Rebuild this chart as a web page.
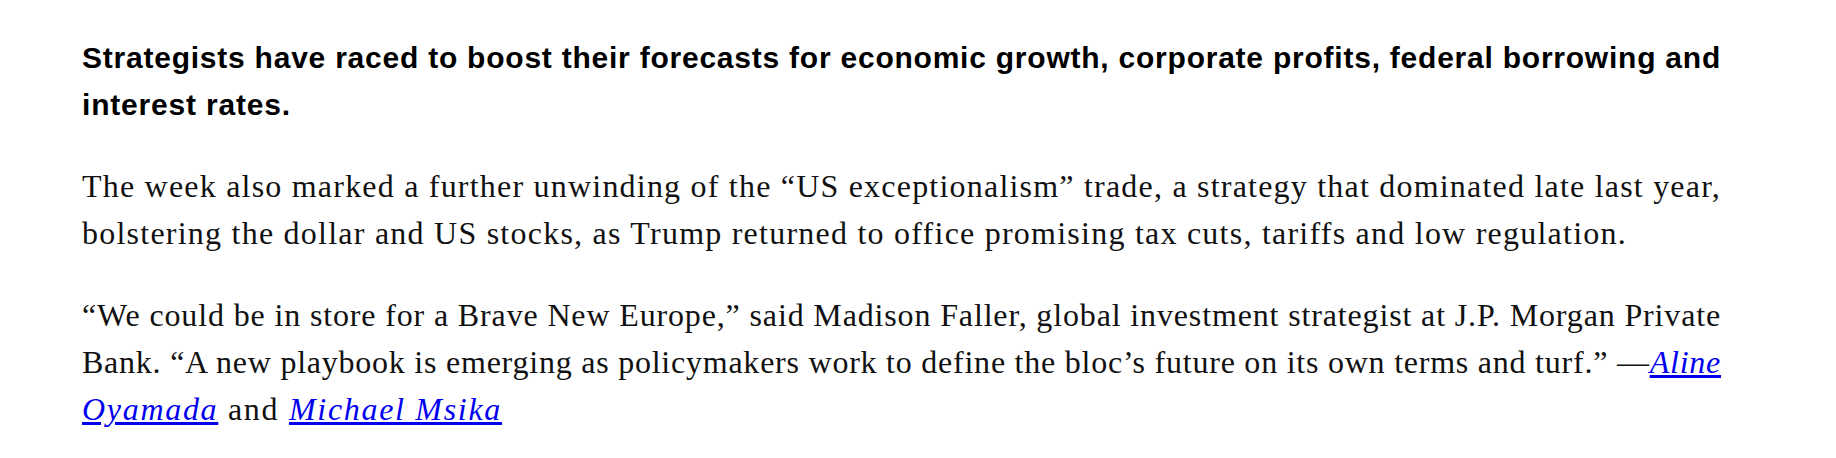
<!DOCTYPE html>
<html>
<head>
<meta charset="utf-8">
<script src="https://cdn.jsdelivr.net/npm/chart.js@4"></script>
<style>
  body { margin: 0; background: #fff; width: 1836px; height: 458px; overflow: hidden; }
  .wrap { position: absolute; left: 82px; top: 34px; width: 1700px; }
  .lede { font-family: "Liberation Sans", Arial, sans-serif; font-weight: bold; font-size: 30px; line-height: 47px; color: #000; margin: 0 0 35px; }
  .body { font-family: "Liberation Serif", "DejaVu Serif", serif; font-size: 32px; line-height: 47px; color: #111; margin: 0 0 35px; }
  .ln { display: inline-block; white-space: nowrap; }
  a { color: #00e; font-style: italic; text-decoration: underline; }
</style>
</head>
<body>
<div class="wrap" id="text"></div>
<script>
// ── Text lines (kept as in the reference) ─────────────────────
const ledeLines = [
  'Strategists have raced to boost their forecasts for economic growth, corporate profits, federal borrowing and',
  'interest rates.'
];
const para1Lines = [
  'The week also marked a further unwinding of the \u201cUS exceptionalism\u201d trade, a strategy that dominated late last year,',
  'bolstering the dollar and US stocks, as Trump returned to office promising tax cuts, tariffs and low regulation.'
];
const para2Lines = [
  '\u201cWe could be in store for a Brave New Europe,\u201d said Madison Faller, global investment strategist at J.P. Morgan Private',
  'Bank. \u201cA new playbook is emerging as policymakers work to define the bloc\u2019s future on its own terms and turf.\u201d \u2014<a href="#">Aline</a>',
  '<a href="#">Oyamada</a> and <a href="#">Michael Msika</a>'
];
// widths of each line in the reference (px), null = leave natural
const lineWidths = [
  [1639, 209],
  [1639, 1545],
  [1639, 1639, 420]
];

function block(cls, lines) {
  return '<p class="' + cls + '">' + lines.map(l => '<span class="ln">' + l + '</span><br>').join('') + '</p>';
}

document.getElementById('text').innerHTML =
  block('lede', ledeLines) + block('body', para1Lines) + block('body', para2Lines);

// stretch each line to the reference width
document.querySelectorAll('p').forEach((p, pi) => {
  p.querySelectorAll('.ln').forEach((el, li) => {
    const target = lineWidths[pi][li];
    const w = el.getBoundingClientRect().width;
    const n = el.textContent.length;
    el.style.letterSpacing = ((target - w) / n).toFixed(3) + 'px';
  });
});
</script>
</body>
</html>
